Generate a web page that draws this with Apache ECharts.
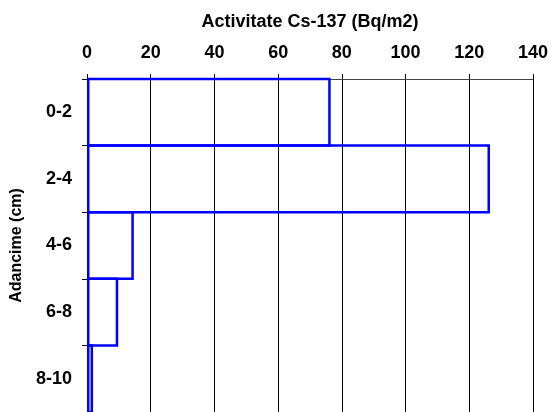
<!DOCTYPE html>
<html>
<head>
<meta charset="utf-8">
<script src="https://cdn.jsdelivr.net/npm/echarts@6/dist/echarts.min.js"></script>
<style>html,body{margin:0;padding:0;background:#fff}#c{width:551px;height:412px}</style>
</head>
<body>
<div id="c"></div>
<script>
const categories = ['0-2', '2-4', '4-6', '6-8', '8-10'];
const values = [76.5, 126.5, 14.7, 9.8, 1.9];
const xTitle = 'Activitate Cs-137 (Bq/m2)';
const yTitle = 'Adancime (cm)';

const FONT = 'Arial, "Liberation Sans", sans-serif';
const chart = echarts.init(document.getElementById('c'), null, {renderer: 'canvas'});
chart.setOption({
  animation: false,
  backgroundColor: '#fff',
  grid: {left: 87, top: 79, right: 18, height: 334, containLabel: false},
  xAxis: {
    type: 'value', position: 'top', min: 0, max: 140, interval: 20,
    name: xTitle, nameLocation: 'middle', nameGap: 48,
    nameTextStyle: {fontFamily: FONT, fontWeight: 'bold', fontSize: 18, color: '#000'},
    axisLine: {show: true, lineStyle: {color: '#444', width: 1}},
    axisTick: {show: true, inside: false, length: 5, lineStyle: {color: '#000'}},
    axisLabel: {margin: 17, fontFamily: FONT, fontWeight: 'bold', fontSize: 18, color: '#000'},
    splitLine: {show: true, lineStyle: {color: '#000', width: 1}}
  },
  yAxis: {
    type: 'category', data: categories, inverse: true,
    name: yTitle, nameLocation: 'middle', nameGap: 62, nameRotate: 90,
    nameTextStyle: {fontFamily: FONT, fontWeight: 'bold', fontSize: 16, color: '#000'},
    axisLine: {show: true, lineStyle: {color: '#000', width: 1}},
    axisTick: {show: true, inside: false, length: 5, lineStyle: {color: '#000'}},
    axisLabel: {margin: 15, fontFamily: FONT, fontWeight: 'bold', fontSize: 18, color: '#000'},
    splitLine: {show: false}
  },
  series: [{
    type: 'bar', data: values, barWidth: '103.7%',
    itemStyle: {color: 'rgba(255,255,255,0)', borderColor: '#0000ff', borderWidth: 2.5}
  }]
});
</script>
</body>
</html>
